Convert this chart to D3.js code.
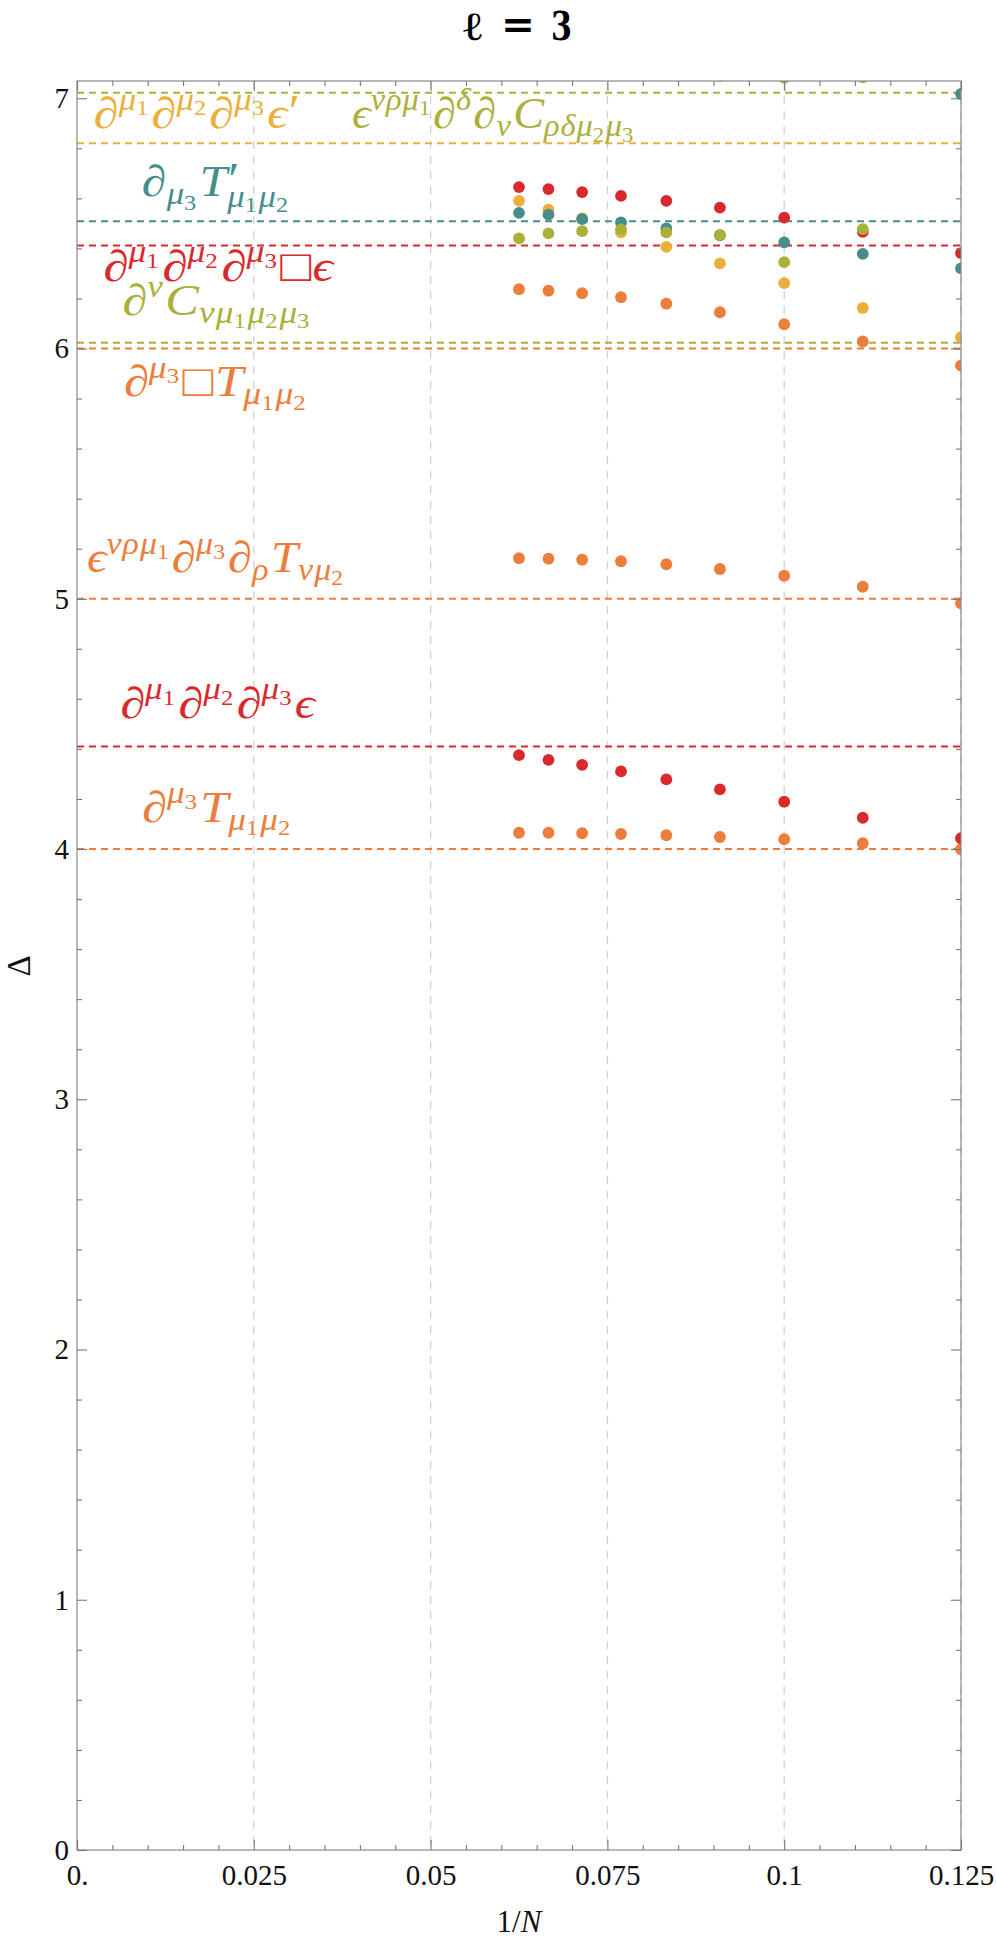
<!DOCTYPE html>
<html><head><meta charset="utf-8">
<script src="https://cdn.jsdelivr.net/npm/d3@7"></script>
<style>body{margin:0;background:#fff;} svg{display:block;}</style>
</head><body>
<svg id="c" width="996" height="1953"></svg>
<script>
// ---------------- data ----------------
const invN = [1/16, 1/15, 1/14, 1/13, 1/12, 1/11, 1/10, 1/9, 1/8];

const orangeLow  = [4.065, 4.065, 4.063, 4.060, 4.055, 4.048, 4.039, 4.023, 3.999];
const redLow     = [4.375, 4.356, 4.336, 4.310, 4.278, 4.238, 4.189, 4.125, 4.043];
const orangeMid  = [5.162, 5.160, 5.156, 5.150, 5.138, 5.119, 5.092, 5.048, 4.982];
const orangeHigh = [6.237, 6.231, 6.221, 6.205, 6.179, 6.145, 6.097, 6.028, 5.932];
const redHigh    = [6.645, 6.637, 6.625, 6.610, 6.590, 6.563, 6.523, 6.466, 6.381];
const yellowHigh = [6.590, 6.555, 6.520, 6.464, 6.406, 6.340, 6.261, 6.162, 6.045];
const tealHigh   = [6.542, 6.535, 6.517, 6.504, 6.480, 6.452, 6.424, 6.378, 6.320];
const oliveHigh  = [6.440, 6.460, 6.469, 6.476, 6.464, 6.454, 6.345, 6.477, null];
const oliveTop   = [null, null, null, null, null, 7.089, 7.082, 7.084, null];
const tealTop    = [null, null, null, null, null, null, null, null, 7.017];

const seriesValues = [orangeLow, redLow, orangeMid, orangeHigh, redHigh, yellowHigh, tealHigh, oliveHigh, oliveTop, tealTop];
const seriesColor  = ["orange","red","orange","orange","red","yellow","teal","olive","olive","teal"];

const refValues = [7.022, 6.820, 6.509, 6.412, 6.023, 6.0, 5.0, 4.41, 4.0];
const refColor  = ["olive","yellow","teal","red","olive","orange","orange","red","orange"];

const labelTex = [
  "∂^{μ_1}∂^{μ_2}∂^{μ_3}ϵ^{′}",
  "ϵ^{νρμ_1}∂^{δ}∂_{ν}C_{ρδμ_2μ_3}",
  "∂_{μ_3}T^{′}_{μ_1μ_2}",
  "∂^{μ_1}∂^{μ_2}∂^{μ_3}□ϵ",
  "∂^{ν}C_{νμ_1μ_2μ_3}",
  "∂^{μ_3}□T_{μ_1μ_2}",
  "ϵ^{νρμ_1}∂^{μ_3}∂_{ρ}T_{νμ_2}",
  "∂^{μ_1}∂^{μ_2}∂^{μ_3}ϵ",
  "∂^{μ_3}T_{μ_1μ_2}"
];
const labelColor = ["yellow","olive","teal","red","olive","orange","orange","red","orange"];

const xMajor = [0, 0.025, 0.05, 0.075, 0.1, 0.125];
const xTickLabels = ["0.", "0.025", "0.05", "0.075", "0.1", "0.125"];
const yMajor = [0, 1, 2, 3, 4, 5, 6, 7];

// ---------------- layout / style ----------------
// label anchors (left edge, baseline) in data coordinates, and target widths in px
const labelAnchor = [[0.0024,6.881],[0.0389,6.881],[0.0092,6.609],[0.0037,6.270],[0.0064,6.134],
                     [0.0066,5.810],[0.0014,5.107],[0.0061,4.524],[0.0092,4.108]];
const labelWidth = [205, 283, 148, 230, 189, 184, 258, 195, 150];

const palette = {red:"#d9292d", orange:"#ec7d3b", yellow:"#ebaf3b", teal:"#478d8c", olive:"#aab03a"};
const W = 996, H = 1953;
const M = {left:77, right:961, top:81, bottom:1850};
const serif = "'Liberation Serif','DejaVu Serif',serif";
const LABEL_SIZE = 44;

const svg = d3.select("#c");
svg.append("rect").attr("width",W).attr("height",H).attr("fill","#fff");

const x = d3.scaleLinear().domain([0, 0.125]).range([M.left, M.right]);
const y = d3.scaleLinear().domain([0, 7.069]).range([M.bottom, M.top]);

svg.append("clipPath").attr("id","plotclip").append("rect")
  .attr("x",M.left).attr("y",M.top).attr("width",M.right-M.left).attr("height",M.bottom-M.top);

// gridlines
svg.append("g").selectAll("line").data(xMajor.slice(1)).join("line")
  .attr("x1",d=>x(d)).attr("x2",d=>x(d)).attr("y1",M.top).attr("y2",M.bottom)
  .attr("stroke","#d2d2d2").attr("stroke-width",1.3).attr("stroke-dasharray","8,7");

// reference lines
const plot = svg.append("g").attr("clip-path","url(#plotclip)");
plot.append("g").selectAll("line").data(refValues).join("line")
  .attr("x1",M.left).attr("x2",M.right).attr("y1",d=>y(d)).attr("y2",d=>y(d))
  .attr("stroke",(d,i)=>palette[refColor[i]]).attr("stroke-width",2).attr("stroke-dasharray","7,5");

// ---------- math labels ----------
function parseSeq(str, i) {
  const atoms = [];
  while (i < str.length) {
    const c = str[i];
    if (c === "}") return [atoms, i + 1];
    if (c === "^" || c === "_") {
      i++;
      let grp;
      if (str[i] === "{") { [grp, i] = parseSeq(str, i + 1); }
      else { grp = [{base: str[i]}]; i++; }
      if (!atoms.length) atoms.push({base: ""});
      const last = atoms[atoms.length - 1];
      if (c === "^") last.sup = grp; else last.sub = grp;
      continue;
    }
    atoms.push({base: c}); i++;
  }
  return [atoms, i];
}
function isItalic(ch) { return /[A-Za-zα-ωϵ∂]/.test(ch); }
function renderSeq(g, atoms, x0, y0, size, color) {
  const gap = size * 0.03;
  let cx = x0;
  for (const a of atoms) {
    if (a.base) {
      const t = g.append("text").attr("x",cx).attr("y",y0).attr("font-size",size)
        .attr("fill",color).attr("font-family",serif)
        .attr("font-style",isItalic(a.base)?"italic":"normal").text(a.base);
      cx += t.node().getComputedTextLength();
    }
    let w1 = 0, w2 = 0;
    if (a.sup) {
      const isPrime = a.sup.length === 1 && a.sup[0].base === "′" && !a.sup[0].sup && !a.sup[0].sub;
      if (isPrime) {
        const t = g.append("text").attr("x",cx + size*0.02).attr("y",y0 - size*0.02).attr("font-size",size*1.05)
          .attr("fill",color).attr("font-family",serif).text("′");
        w1 = t.node().getComputedTextLength();
      } else {
        w1 = renderSeq(g, a.sup, cx, y0 - size*0.42, size*0.7, color) - cx;
      }
    }
    if (a.sub) w2 = renderSeq(g, a.sub, cx, y0 + size*(a.sup?0.24:0.18), size*0.7, color) - cx;
    cx += Math.max(w1, w2) + gap;
  }
  return cx;
}
const labG = svg.append("g");
labelTex.forEach((s, i) => {
  const [atoms] = parseSeq(s, 0);
  const x0 = x(labelAnchor[i][0]), y0 = y(labelAnchor[i][1]);
  const g = labG.append("g");
  const w0 = renderSeq(g, atoms, x0, y0, LABEL_SIZE, palette[labelColor[i]]) - x0 - LABEL_SIZE*0.03;
  const sx = labelWidth[i] / w0;
  g.attr("transform", `translate(${x0},0) scale(${sx},1) translate(${-x0},0)`);
});

// points
const pts = [];
seriesValues.forEach((arr, si) => arr.forEach((v, k) => {
  if (v !== null) pts.push({x: invN[k], y: v, c: seriesColor[si]});
}));
const drawOrder = ["orange","red","yellow","teal","olive"];
pts.sort((a,b)=>drawOrder.indexOf(a.c)-drawOrder.indexOf(b.c));
plot.append("g").selectAll("circle").data(pts).join("circle")
  .attr("cx",d=>x(d.x)).attr("cy",d=>y(d.y)).attr("r",5.9)
  .attr("fill",d=>palette[d.c]);

// frame
svg.append("rect").attr("x",M.left).attr("y",M.top).attr("width",M.right-M.left).attr("height",M.bottom-M.top)
  .attr("fill","none").attr("stroke","#8a8a8a").attr("stroke-width",1.2);

// axes
const xMinor = d3.range(0, 0.12501, 0.005).filter(v => xMajor.every(m => Math.abs(m-v) > 1e-9));
const yMinor = d3.range(0, 7.0001, 0.2).filter(v => Math.abs(v - Math.round(v)) > 1e-6);
function styleAxis(g) {
  g.select(".domain").remove();
  g.selectAll(".tick line").attr("stroke","#777").attr("stroke-width",1.1);
  g.selectAll("text").attr("font-family",serif).attr("font-size",29).attr("fill","#111");
}
svg.append("g").attr("transform",`translate(0,${M.bottom})`)
  .call(d3.axisBottom(x).tickValues(xMajor).tickSize(-10).tickPadding(14).tickFormat((d,i)=>xTickLabels[i]))
  .call(styleAxis);
svg.append("g").attr("transform",`translate(0,${M.bottom})`)
  .call(d3.axisBottom(x).tickValues(xMinor).tickSize(-5).tickFormat("")).call(styleAxis);
svg.append("g").attr("transform",`translate(0,${M.top})`)
  .call(d3.axisTop(x).tickValues(xMajor).tickSize(-10).tickFormat("")).call(styleAxis);
svg.append("g").attr("transform",`translate(0,${M.top})`)
  .call(d3.axisTop(x).tickValues(xMinor).tickSize(-5).tickFormat("")).call(styleAxis);
svg.append("g").attr("transform",`translate(${M.left},0)`)
  .call(d3.axisLeft(y).tickValues(yMajor).tickSize(-10).tickPadding(8).tickFormat(d3.format("d")))
  .call(styleAxis);
svg.append("g").attr("transform",`translate(${M.left},0)`)
  .call(d3.axisLeft(y).tickValues(yMinor).tickSize(-5).tickFormat("")).call(styleAxis);
svg.append("g").attr("transform",`translate(${M.right},0)`)
  .call(d3.axisRight(y).tickValues(yMajor).tickSize(-10).tickFormat("")).call(styleAxis);
svg.append("g").attr("transform",`translate(${M.right},0)`)
  .call(d3.axisRight(y).tickValues(yMinor).tickSize(-5).tickFormat("")).call(styleAxis);

// axis titles
const xt = svg.append("text").attr("x",(M.left+M.right)/2).attr("y",1932).attr("text-anchor","middle")
  .attr("font-family",serif).attr("font-size",31).attr("fill","#111");
xt.append("tspan").text("1/");
xt.append("tspan").attr("font-style","italic").text("N");
svg.append("text").attr("transform","translate(30,966) rotate(-90)").attr("text-anchor","middle")
  .attr("font-family",serif).attr("font-size",33).attr("fill","#111").text("Δ");

// title
const tg = svg.append("g").attr("font-family","'DejaVu Serif',serif").attr("font-weight","bold").attr("fill","#000");
tg.append("text").attr("x",463).attr("y",40).attr("font-size",40).attr("textLength",19).attr("lengthAdjust","spacingAndGlyphs").text("ℓ");
tg.append("text").attr("x",501).attr("y",38).attr("font-size",40).attr("textLength",34).attr("lengthAdjust","spacingAndGlyphs").text("=");
tg.append("text").attr("x",551).attr("y",40).attr("font-size",39).attr("textLength",21).attr("lengthAdjust","spacingAndGlyphs").text("3");
</script>
</body></html>
